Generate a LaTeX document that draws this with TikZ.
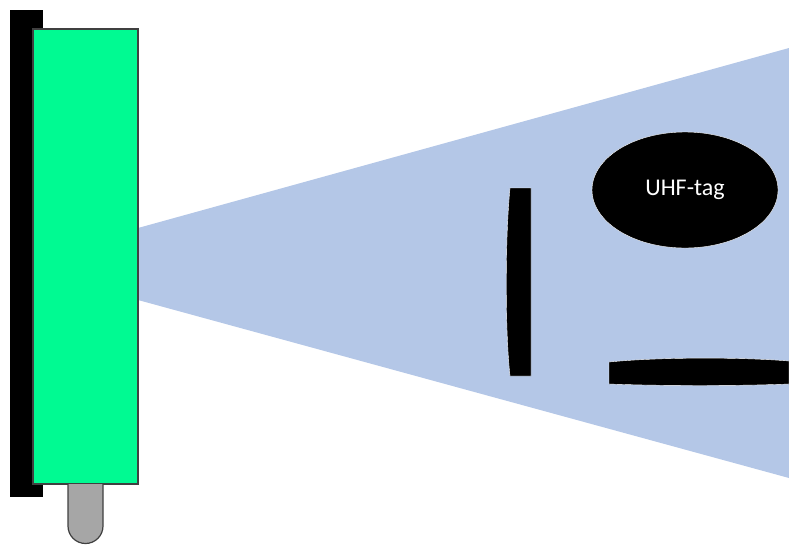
\documentclass[tikz,border=0pt]{standalone}
\usepackage{fontspec}
\setmainfont{Carlito}
\usetikzlibrary{shapes.geometric}
\begin{document}
\begin{tikzpicture}[x=1pt, y=-1pt]
  \definecolor{readergreen}{HTML}{00FA92}
  \definecolor{beamblue}{HTML}{B4C7E7}
  \definecolor{plugrey}{HTML}{A6A6A6}
  \useasboundingbox (0,0) rectangle (789,544);
  % reader field
  \fill[beamblue] (138,228) -- (789,48) -- (789,478) -- (138,300) -- cycle;
  % wall mount and reader
  \fill[black] (10,10) rectangle (43,497);
  \draw[black!75, line width=1.2pt, fill=readergreen] (33,29) rectangle (138,484);
  \draw[black!75, line width=1.2pt, fill=plugrey] (68,484) -- (68,526) arc[start angle=180, end angle=0, radius=17.5] -- (103,484);
  % tags in the field
  \draw[white, fill=black] (510,188) .. controls (505,240) and (505,330) .. (510,376) -- (531,376) -- (531,188) -- cycle;
  \draw[white, fill=black] (609,362) .. controls (660,357) and (740,357) .. (789,361) -- (789,384) .. controls (740,386) and (660,386) .. (609,384) -- cycle;
  \node[ellipse, draw=white, fill=black, minimum width=186pt, minimum height=116pt, inner sep=0pt,
        text=white, font=\fontsize{24}{28}\selectfont] (uhftag) at (685,190) {UHF-tag};
\end{tikzpicture}
\end{document}
